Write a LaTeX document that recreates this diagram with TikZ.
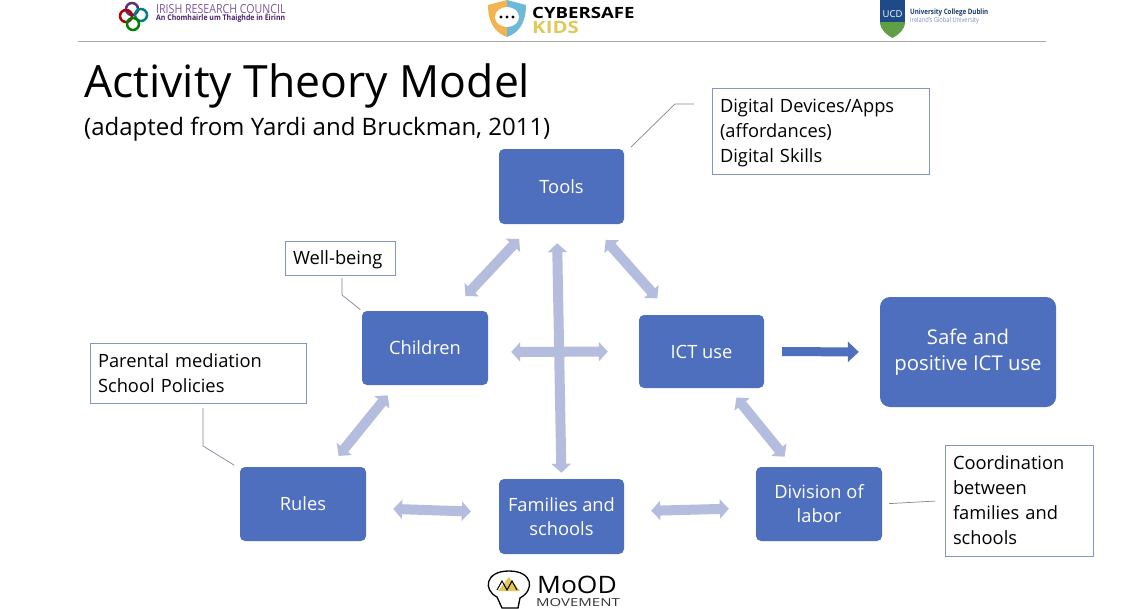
\documentclass[tikz,border=0pt]{standalone}
\usepackage{fontspec}
\setmainfont{Open Sans}
\usepackage{xcolor}
\usetikzlibrary{arrows.meta}
\usetikzlibrary{calc}
\definecolor{ColBlock}{RGB}{78,110,190}
\definecolor{ColArc}{RGB}{180,189,222}
\definecolor{ColNote}{RGB}{132,150,190}
\definecolor{ColLead}{RGB}{125,135,150}
\definecolor{ColRule}{RGB}{170,170,170}
\definecolor{ColPurple}{RGB}{92,45,130}
\definecolor{ColGold}{RGB}{226,200,90}
\definecolor{ColShield}{RGB}{240,180,80}
\definecolor{ColSky}{RGB}{110,185,215}
\definecolor{ColUcd}{RGB}{30,75,135}
\definecolor{ColUcdG}{RGB}{95,160,70}
\tikzstyle{BlockNode}=[rectangle,rounded corners=5pt,fill=ColBlock,text=white,minimum width=126pt,
minimum height=74pt,inner sep=2pt,align=center,font=\fontsize{18.3}{24}\selectfont]
\tikzstyle{NoteNode}=[rectangle,draw=ColNote,fill=white,inner sep=8pt,align=left,
font=\fontsize{18.3}{25}\selectfont]
\tikzstyle{ArcDouble}=[ColArc,line width=10pt,{Triangle[width=19pt,length=9pt]}-{Triangle[width=19pt,length=9pt]}]
\tikzstyle{ArcSingle}=[ColBlock,line width=9pt,-{Triangle[width=20pt,length=11pt]}]
\tikzstyle{LeadLine}=[ColLead,line width=.7pt]
\tikzstyle{LogoText}=[inner sep=0pt,anchor=west]

\begin{document}
\begin{tikzpicture}[x=1pt,y=-1pt]
        \clip(0,0)rectangle(1124,608);
        \fill[white](0,0)rectangle(1124,608);
        \coordinate(RuleL)at(78,41);
        \coordinate(RuleR)at(1046,41);
        \draw[ColRule,line width=1pt](RuleL)--(RuleR);
        \draw[ColPurple,line width=2.5pt](132,9)circle(6);
        \draw[red!70!black,line width=2.5pt](126,16)circle(6);
        \draw[teal,line width=2.5pt](141,15)circle(6);
        \draw[green!50!black,line width=2.5pt](133,24)circle(6);
        \node[LogoText,text=ColPurple!80](IrcA)at(156,9){\scalebox{.85}[1]{\fontsize{12.5}{14}\selectfont IRISH RESEARCH COUNCIL}};
        \node[LogoText,text=ColPurple!80!black](IrcB)at(156,18){\scalebox{.89}[1]{\fontsize{7.8}{9}\selectfont\bfseries An Chomhairle um Thaighde in Éirinn}};
        \fill[ColShield](488,5)--(507,0)--(507,37)..controls(496,33)and(488,24)..cycle;
        \fill[ColSky](526,5)--(507,0)--(507,37)..controls(518,33)and(526,24)..cycle;
        \fill[white](507,17)ellipse(12 and 10);
        \fill[black](501,17)circle(1.7);
        \fill[black](507,17)circle(1.7);
        \fill[black](513,17)circle(1.7);
        \node[LogoText,text=black](CyberA)at(532,13){\scalebox{1.2}[1]{\fontsize{15.5}{17}\selectfont\bfseries CYBERSAFE}};
        \node[LogoText,text=ColGold](CyberB)at(532,27){\scalebox{1.2}[1]{\fontsize{17}{18}\selectfont\bfseries KIDS}};
        \fill[ColUcd](880,0)rectangle(905,22);
        \fill[ColUcdG](880,22)--(905,22)..controls(905,30)and(898,35)..(892.5,38)..controls(887,35)and(880,30)..cycle;
        \node[text=white,inner sep=0pt](UcdMark)at(892.5,14){\fontsize{9.5}{10}\selectfont UCD};
        \node[LogoText,text=ColUcd!80!black](UcdA)at(910,13){\scalebox{.84}[1]{\fontsize{7.4}{9}\selectfont\bfseries University College Dublin}};
        \node[LogoText,text=ColUcd!60](UcdB)at(910,21){\scalebox{.84}[1]{\fontsize{6.8}{8}\selectfont Ireland's Global University}};
        \draw[black,line width=1.3pt,fill=white](497,597)..controls(483,590)and(485,571)..(509,571)..controls(533,571)and(535,590)..(520,598)--(518,608)--(502,608)--cycle;
        \fill[ColGold](498,591)--(509,577)--(520,591)--cycle;
        \draw[black,line width=1pt](497,590)--(502,581)--(507,590)--(512,581)--(517,590);
        \node[LogoText,text=black](MoodA)at(537,585){\scalebox{1.1}[1]{\fontsize{24}{26}\selectfont MoOD}};
        \node[LogoText,text=black!80](MoodB)at(536,603){\scalebox{1.36}[1]{\fontsize{11}{12}\selectfont MOVEMENT}};
        \node[inner sep=0pt,anchor=west](TitleMain)at(84,86){\fontsize{44.5}{50}\selectfont Activity Theory Model};
        \node[inner sep=0pt,anchor=west](TitleSub)at(84,129){\fontsize{24}{29}\selectfont (adapted from Yardi and Bruckman, 2011)};
        \node[BlockNode,minimum width=125pt,minimum height=75pt](Tools)at(561.5,186.5){Tools};
        \node[BlockNode](Children)at(425,348){Children};
        \node[BlockNode,minimum width=125pt,minimum height=73pt](IctUse)at(701.5,351.5){ICT use};
        \node[BlockNode,rounded corners=10pt,minimum width=176pt,minimum height=110pt,font=\fontsize{20.3}{26}\selectfont](SafeUse)at(968,352){Safe and\\positive ICT use};
        \node[BlockNode](Rules)at(303,504){Rules};
        \node[BlockNode,minimum width=125pt,minimum height=75pt](Families)at(561.5,516.5){Families and\\schools};
        \node[BlockNode](Division)at(819,504){Division of\\labor};
        \node[NoteNode,inner ysep=2pt,minimum width=217pt,minimum height=86pt,text width=201pt](NoteTools)at(820.5,131){\rule{0pt}{18pt}Digital Devices/Apps\\(affordances)\\Digital Skills};
        \node[NoteNode,inner ysep=2pt,minimum width=110pt,minimum height=34pt,text width=94pt](NoteChildren)at(340,258){\rule{0pt}{18pt}Well-being};
        \node[NoteNode,minimum width=216pt,minimum height=60pt,text width=200pt](NoteRules)at(198,373){Parental mediation\\School Policies};
        \node[NoteNode,minimum width=148pt,minimum height=111pt,text width=132pt](NoteDivision)at(1019,500.5){Coordination\\between\\families and\\schools};
        \draw[ArcDouble,shorten <=20pt,shorten >=20pt]([xshift=34pt]Tools.south west)--([xshift=90pt]Children.north west);
        \draw[ArcDouble,shorten <=21pt,shorten >=22pt]([xshift=93pt]Tools.south west)--([xshift=33pt]IctUse.north west);
        \draw[ArcDouble,shorten <=19pt,shorten >=6pt]([xshift=58pt]Tools.south west)--(Families.north);
        \draw[ArcDouble,shorten <=23pt,shorten >=31pt]([yshift=-4pt]Children.east)--(IctUse.west);
        \draw[ArcDouble,shorten <=13pt,shorten >=14pt]([xshift=34pt]Children.south west)--([xshift=90pt]Rules.north west);
        \draw[ArcDouble,shorten <=27pt,shorten >=28pt]([yshift=-4pt]Rules.east)--([yshift=4pt]Families.west);
        \draw[ArcDouble,shorten <=27pt,shorten >=27pt]([yshift=5pt]Families.east)--([yshift=-4pt]Division.west);
        \draw[ArcDouble,shorten <=12pt,shorten >=13pt]([xshift=90pt]IctUse.south west)--([xshift=37pt]Division.north west);
        \draw[ArcSingle,shorten <=18pt,shorten >=21pt](IctUse.east)--(SafeUse.west);
        \coordinate(BendTools)at(675,104);
        \coordinate(BendChildren)at(342,295);
        \coordinate(BendRules)at(203,446);
        \draw[LeadLine,shorten <=1pt,shorten >=18pt]([xshift=6pt,yshift=1pt]Tools.north east)--(BendTools)--(NoteTools.west|-BendTools);
        \draw[LeadLine,shorten <=2pt,shorten >=3pt](Children.north west)--(BendChildren)--(BendChildren|-NoteChildren.south);
        \draw[LeadLine,shorten <=3pt,shorten >=5pt]([xshift=-3pt]Rules.north west)--(BendRules)--(BendRules|-NoteRules.south);
        \draw[LeadLine,shorten <=7pt,shorten >=10pt](Division.east)--(NoteDivision.west);
    \end{tikzpicture}
\end{document}
